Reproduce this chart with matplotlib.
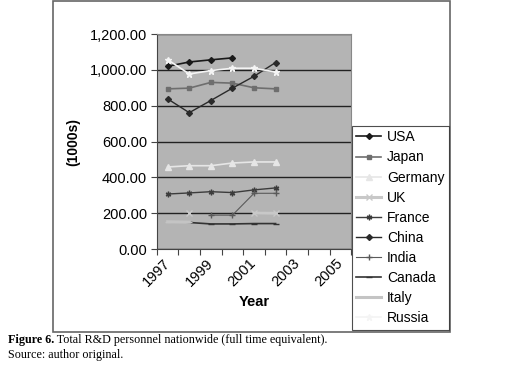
import matplotlib.pyplot as plt
import numpy as np
from matplotlib.patches import Rectangle
from matplotlib.ticker import FuncFormatter

plt.rcParams['font.family'] = ['Liberation Sans', 'DejaVu Sans']

years = [1997, 1998, 1999, 2000, 2001, 2002, 2003, 2004, 2005]
tick_years = ['1997', '1999', '2001', '2003', '2005']
nan = np.nan

usa = [1020, 1044, 1056, 1067, nan, nan]
japan = [894, 898, 930, 926, 900, 894]
germany = [458, 465, 465, 480, 486, 486]
uk = [nan, 200, nan, nan, 200, 199]
france = [307, 313, 320, 315, 330, 341]
china = [838, 761, 829, 898, 964, 1041]
india = [nan, nan, 189, 189, 311, 311]
canada = [nan, 148, 140, 140, 142, 142]
italy = [152, 150, nan, nan, nan, nan]
russia = [1057, 977, 996, 1009, 1009, 988]

fig = plt.figure(figsize=(5.06, 3.70), dpi=100)
ax = fig.add_axes([0.310, 0.327, 0.384, 0.581])
ax.set_facecolor('#b4b4b4')

x = np.arange(len(usa))
ax.plot(x, usa, color='#1a1a1a', marker='D', ms=3, lw=1.2, label='USA')
ax.plot(x, japan, color='#6e6e6e', marker='s', ms=3.5, lw=1.2, label='Japan')
ax.plot(x, germany, color='#e6e6e6', marker='^', ms=4, lw=1.2, label='Germany')
ax.plot(x, uk, color='#c8c8c8', marker='x', ms=5, lw=2.2, label='UK')
ax.plot(x, france, color='#3c3c3c', marker=(6, 2, 0), ms=4, lw=1, label='France')
ax.plot(x, china, color='#2a2a2a', marker='D', ms=3, lw=1, label='China')
ax.plot(x, india, color='#5a5a5a', marker='+', ms=5, lw=0.8, label='India')
ax.plot(x, canada, color='#333333', marker='_', ms=4, lw=1.2, label='Canada')
ax.plot(x, italy, color='#c4c4c4', marker='_', ms=4, lw=2.2, label='Italy')
ax.plot(x, russia, color='#f4f4f4', marker='*', ms=5, lw=1.2, label='Russia')

ax.set_xlim(-0.5, len(years) - 0.5)
ax.set_ylim(0, 1200)
ax.set_yticks(np.arange(0, 1201, 200))
ax.yaxis.set_major_formatter(FuncFormatter(lambda v, p: f'{v:,.2f}'))
ax.yaxis.grid(True, color='#222222', lw=1)
ax.set_axisbelow(True)

ax.set_xticks(np.arange(len(years) + 1) - 0.5)
ax.set_xticklabels([])
ax.set_xticks(np.arange(0, len(years), 2), minor=True)
ax.set_xticklabels(tick_years, minor=True, rotation=45, ha='right', va='center',
                   rotation_mode='anchor', fontsize=10.5)
ax.tick_params(axis='x', which='minor', length=0, pad=9)
ax.tick_params(axis='both', which='major', direction='out', length=4, color='#444444')
ax.tick_params(axis='y', labelsize=10.5, pad=3)

for s in ['top', 'right']:
    ax.spines[s].set_color('#888888')
for s in ['left', 'bottom']:
    ax.spines[s].set_color('#444444')

ax.set_xlabel('Year', fontsize=10.5, fontweight='bold', labelpad=4)
fig.text(0.144, 0.616, '(1000s)', rotation=90, fontsize=10, fontweight='bold',
         ha='center', va='center')

leg = fig.legend(loc='upper left', bbox_to_anchor=(0.696, 0.659), borderaxespad=0,
                 fontsize=10, frameon=True, fancybox=False, handlelength=1.8,
                 labelspacing=0.44, borderpad=0.3, handletextpad=0.4)
leg.get_frame().set_edgecolor('#222222')
leg.get_frame().set_linewidth(0.8)

fig.add_artist(Rectangle((0.105, 0.103), 0.784, 0.895, transform=fig.transFigure,
                         fill=False, edgecolor='#666666', lw=1.2, zorder=-1))

t = fig.text(0.016, 0.066, 'Figure 6.', fontsize=8.7, fontweight='bold',
             family='Liberation Serif', va='bottom')
ax.annotate(' Total R&D personnel nationwide (full time equivalent).', xy=(1, 0),
            xycoords=t, va='bottom', fontsize=8.7, family='Liberation Serif',
            annotation_clip=False)
fig.text(0.016, 0.023, 'Source: author original.', fontsize=8.7,
         family='Liberation Serif', va='bottom')

fig.savefig('out.png', dpi=100)
